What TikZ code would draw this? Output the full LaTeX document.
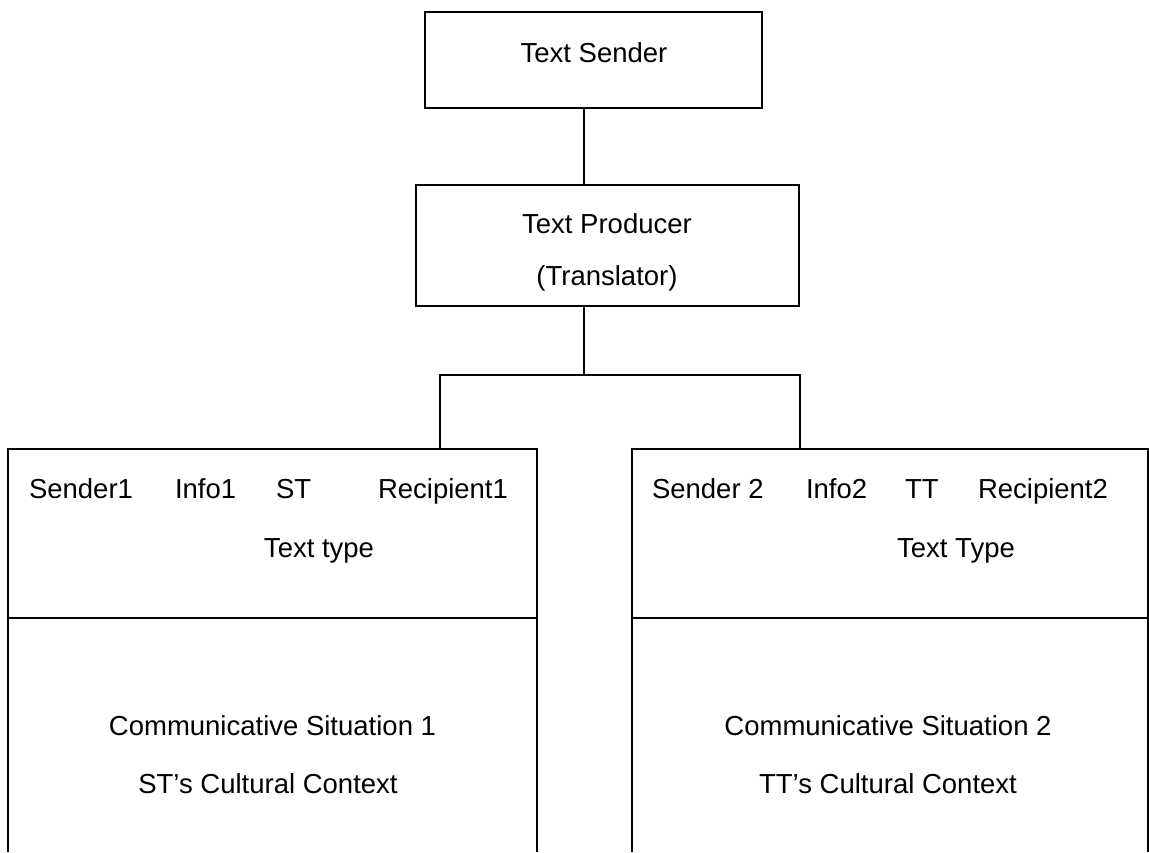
\documentclass[tikz,border=0pt]{standalone}
\usepackage{fontspec}
\setmainfont{Liberation Sans}
\begin{document}
\begin{tikzpicture}[x=1pt,y=-1pt,line width=1.6pt,
  every node/.style={font=\fontsize{27.5}{33}\selectfont,inner sep=0pt,outer sep=0pt},
  boxnode/.style={draw,rectangle},
  lbl/.style={anchor=base},
  lblw/.style={anchor=base west}]
\useasboundingbox (0,0) rectangle (1149,852);
\coordinate (bot) at (0,852);
% boxes
\node[boxnode,minimum width=337pt,minimum height=96pt] (sender) at (593.5,60) {};
\node[boxnode,minimum width=383pt,minimum height=121pt] (producer) at (607.5,245.5) {};
\node[boxnode,minimum width=529pt,minimum height=169pt] (top1) at (272.5,533.5) {};
\node[boxnode,minimum width=516pt,minimum height=169pt] (top2) at (890,533.5) {};
% open lower parts
\draw (top1.south west) -- (top1.south west |- bot);
\draw (top1.south east) -- (top1.south east |- bot);
\draw (top2.south west) -- (top2.south west |- bot);
\draw (top2.south east) -- (top2.south east |- bot);
% connectors
\coordinate (j) at (584,375);
\coordinate (jl) at (440,375);
\coordinate (jr) at (800,375);
\draw (sender.south -| j) -- (producer.north -| j);
\draw (producer.south -| j) -- (j);
\draw (top1.north -| jl) -- (jl) -- (jr) -- (top2.north -| jr);
% texts
\node[lbl] (tsender) at (594,62) {Text Sender};
\node[lbl] (tprod) at (607,233) {Text Producer};
\node[lbl] (ttrans) at (607,285) {(Translator)};
\node[lblw] (s1) at (29,498) {Sender1};
\node[lblw] (i1) at (175,498) {Info1};
\node[lblw] (st) at (276,498) {ST};
\node[lblw] (r1) at (378,498) {Recipient1};
\node[lbl] (tt1) at (319,557) {Text type};
\node[lblw] (s2) at (652,498) {Sender 2};
\node[lblw] (i2) at (806,498) {Info2};
\node[lblw] (tt) at (905,498) {TT};
\node[lblw] (r2) at (978,498) {Recipient2};
\node[lbl] (tt2) at (956,557) {Text Type};
\node[lbl] (cs1) at (272.5,735) {Communicative Situation 1};
\node[lbl] (cc1) at (268,793) {ST’s Cultural Context};
\node[lbl] (cs2) at (888,735) {Communicative Situation 2};
\node[lbl] (cc2) at (888,793) {TT’s Cultural Context};
\end{tikzpicture}
\end{document}
